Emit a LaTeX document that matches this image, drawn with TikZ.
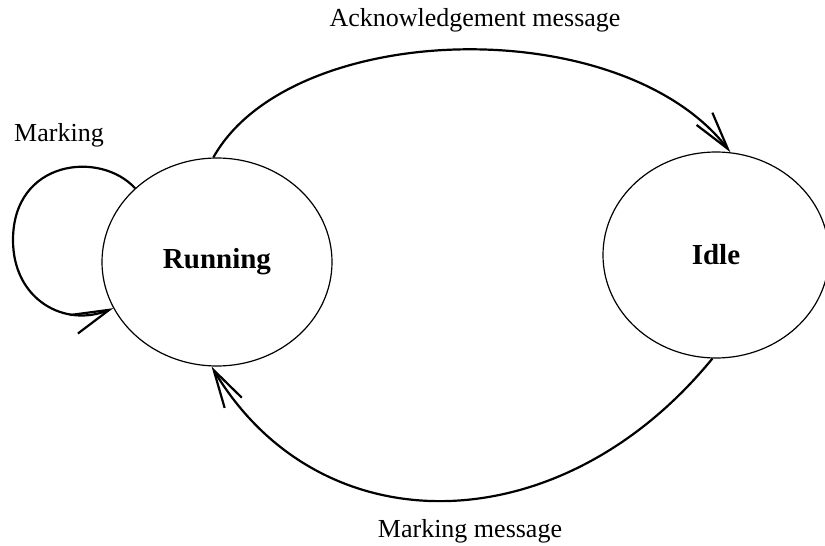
\documentclass[tikz,border=0pt]{standalone}
\usepackage{fontspec}
\setmainfont{Liberation Serif}
\usetikzlibrary{shapes.geometric,arrows.meta}

\begin{document}
\begin{tikzpicture}[x=0.5pt, y=-0.5pt,
    stnode/.style={ellipse, draw, line width=0.6pt, inner sep=0pt,
                   font=\fontsize{14.5}{17}\selectfont\bfseries},
    lbl/.style={font=\fontsize{13}{15.6}\selectfont, inner sep=0pt},
    msg/.style={line width=1.1pt, -{Straight Barb[length=19pt,width=10pt]}}]
    \useasboundingbox (0,0) rectangle (825,546);

    % states
    \node[stnode, minimum width=115pt, minimum height=104pt] (run) at (217,262) {Running};
    \node[stnode, minimum width=113pt, minimum height=103pt] (idle) at (716,255) {Idle};

    % labels
    \node[lbl] (ack) at (475,20) {Acknowledgement message};
    \node[lbl] (mark) at (59,135) {Marking};
    \node[lbl] (markmsg) at (470,531) {Marking message};

    % transitions
    \draw[msg] (run.92) .. controls (290,20) and (620,10) .. (idle.82);
    \draw[msg] (idle.268) .. controls (560,545) and (320,548) .. (run.267);
    \draw[msg] (run.138) .. controls (100,150) and (13,160) .. (13,240)
                         .. controls (13,300) and (65,328) .. (run.204);
\end{tikzpicture}
\end{document}
